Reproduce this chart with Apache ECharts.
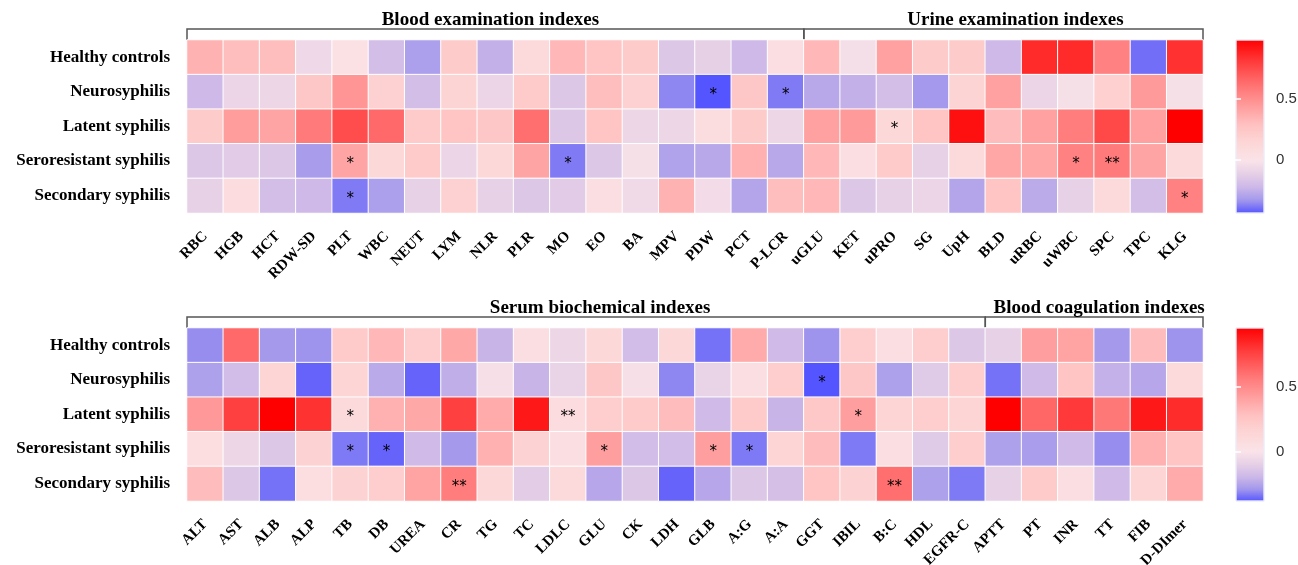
<!DOCTYPE html>
<html>
<head>
<meta charset="utf-8">
<script src="https://cdn.jsdelivr.net/npm/echarts@6/dist/echarts.min.js"></script>
<style>
html,body{margin:0;padding:0;background:#fff;}
#chart{width:1298px;height:565px;}
</style>
</head>
<body>
<div id="chart"></div>
<script>
// ---------------- DATA ----------------
const rows = ['Healthy controls', 'Neurosyphilis', 'Latent syphilis', 'Seroresistant syphilis', 'Secondary syphilis'];

const topCols = ['RBC','HGB','HCT','RDW-SD','PLT','WBC','NEUT','LYM','NLR','PLR','MO','EO','BA','MPV','PDW','PCT','P-LCR',
                 'uGLU','KET','uPRO','SG','UpH','BLD','uRBC','uWBC','SPC','TPC','KLG'];
const topHealthy   = [0.35,0.30,0.30,-0.06,0.03,-0.19,-0.30,0.22,-0.24,0.10,0.33,0.27,0.22,-0.15,-0.11,-0.21,0.05,0.33,-0.03,0.42,0.22,0.22,-0.21,0.85,0.85,0.55,-0.39,0.83];
const topNeuro     = [-0.21,-0.08,-0.07,0.25,0.47,0.18,-0.19,0.16,-0.08,0.23,-0.15,0.30,0.18,-0.35,-0.43,0.25,-0.37,-0.27,-0.24,-0.19,-0.32,0.16,0.42,-0.08,-0.02,0.19,0.45,-0.02];
const topLatent    = [0.22,0.44,0.41,0.58,0.74,0.64,0.23,0.26,0.25,0.62,-0.15,0.27,-0.07,-0.07,0.07,0.22,-0.07,0.42,0.45,0.12,0.27,0.93,0.31,0.42,0.57,0.75,0.42,0.98];
const topSero      = [-0.15,-0.13,-0.15,-0.31,0.41,0.12,0.23,-0.08,0.13,0.41,-0.37,-0.15,-0.02,-0.29,-0.27,0.36,-0.27,0.33,0.05,0.23,-0.10,0.10,0.40,0.40,0.55,0.58,0.41,0.10];
const topSecondary = [-0.10,0.08,-0.19,-0.21,-0.37,-0.30,-0.10,0.18,-0.10,-0.15,-0.13,0.05,-0.05,0.35,-0.04,-0.28,0.30,0.33,-0.15,-0.10,-0.08,-0.28,0.26,-0.26,-0.10,0.11,-0.19,0.55];
const topStars = [['PDW','Neurosyphilis','*'],['P-LCR','Neurosyphilis','*'],['uPRO','Latent syphilis','*'],
                  ['PLT','Seroresistant syphilis','*'],['MO','Seroresistant syphilis','*'],['uWBC','Seroresistant syphilis','*'],
                  ['SPC','Seroresistant syphilis','**'],['PLT','Secondary syphilis','*'],['KLG','Secondary syphilis','*']];
const topGroups = [['Blood examination indexes','RBC','P-LCR'],['Urine examination indexes','uGLU','KLG']];
const topRange = [-0.43, 0.98];

const botCols = ['ALT','AST','ALB','ALP','TB','DB','UREA','CR','TG','TC','LDLC','GLU','CK','LDH','GLB','A:G','A:A','GGT','IBIL','B:C','HDL','EGFR-C',
                 'APTT','PT','INR','TT','FIB','D-DImer'];
const botHealthy   = [-0.30,0.62,-0.28,-0.29,0.22,0.32,0.19,0.38,-0.20,0.05,-0.06,0.12,-0.17,0.12,-0.34,0.37,-0.18,-0.29,0.19,0.06,0.19,-0.13,-0.09,0.42,0.40,-0.28,0.30,-0.29];
const botNeuro     = [-0.26,-0.17,0.15,-0.36,0.15,-0.23,-0.36,-0.22,-0.02,-0.20,-0.08,0.24,-0.02,-0.31,-0.08,0.06,0.20,-0.38,0.24,-0.26,-0.12,0.20,-0.34,-0.18,0.26,-0.21,-0.24,0.10];
const botLatent    = [0.44,0.76,0.95,0.80,0.10,0.35,0.38,0.76,0.37,0.88,0.08,0.20,0.22,0.30,-0.18,0.22,-0.20,0.23,0.42,0.15,0.19,0.15,0.95,0.63,0.78,0.57,0.88,0.82];
const botSero      = [0.07,-0.06,-0.13,0.17,-0.33,-0.36,-0.18,-0.28,0.35,0.17,0.06,0.42,-0.17,-0.17,0.42,-0.33,0.15,0.30,-0.33,0.06,-0.12,0.20,-0.26,-0.27,-0.18,-0.30,0.35,0.26];
const botSecondary = [0.30,-0.13,-0.34,0.07,0.17,0.20,0.40,0.55,0.12,-0.11,0.10,-0.24,-0.13,-0.36,-0.24,-0.13,-0.16,0.26,0.17,0.60,-0.26,-0.33,-0.09,0.22,0.06,-0.18,0.15,0.37];
const botStars = [['GGT','Neurosyphilis','*'],['TB','Latent syphilis','*'],['LDLC','Latent syphilis','**'],['IBIL','Latent syphilis','*'],
                  ['TB','Seroresistant syphilis','*'],['DB','Seroresistant syphilis','*'],['GLU','Seroresistant syphilis','*'],
                  ['GLB','Seroresistant syphilis','*'],['A:G','Seroresistant syphilis','*'],
                  ['CR','Secondary syphilis','**'],['B:C','Secondary syphilis','**']];
const botGroups = [['Serum biochemical indexes','ALT','EGFR-C'],['Blood coagulation indexes','APTT','D-DImer']];
const botRange = [-0.38, 0.95];

const legendTicks = [0, 0.5];

// ---------------- COLOUR RAMP ----------------
const negStops = [[0,'#FAE3E8'],[0.25,'#E6D0E6'],[0.5,'#CDB8E8'],[0.75,'#A398EC'],[1,'#5555FF']];
const posStops = [[0,'#FAE3E8'],[0.15,'#FDD6D6'],[0.3,'#FFC0C0'],[0.45,'#FF9C9C'],[0.6,'#FF7878'],[0.8,'#FF4040'],[1,'#FF0000']];
function hex2rgb(h){return [parseInt(h.substr(1,2),16),parseInt(h.substr(3,2),16),parseInt(h.substr(5,2),16)];}
function rampAt(stops,t){
  t=Math.max(0,Math.min(1,t));
  for(let i=1;i<stops.length;i++){
    if(t<=stops[i][0]){
      const a=stops[i-1],b=stops[i];const f=(t-a[0])/(b[0]-a[0]);
      const ca=hex2rgb(a[1]),cb=hex2rgb(b[1]);
      const c=ca.map((x,k)=>Math.round(x+(cb[k]-x)*f));
      return 'rgb('+c.join(',')+')';
    }
  }
  return stops[stops.length-1][1];
}
function colorAt(v,range){ return v<0 ? rampAt(negStops, v/range[0]) : rampAt(posStops, v/range[1]); }
function paletteFor(range){
  const n=80, out=[];
  for(let i=0;i<n;i++){const v=range[0]+(range[1]-range[0])*i/(n-1);out.push(colorAt(v,range));}
  return out;
}
function gradientFor(range){
  const n=60, stops=[];
  for(let i=0;i<n;i++){const v=range[1]-(range[1]-range[0])*i/(n-1);stops.push({offset:i/(n-1),color:colorAt(v,range)});}
  return stops;
}

function buildData(series){
  const d=[];
  series.forEach((arr,r)=>arr.forEach((v,c)=>d.push([c,r,v])));
  return d;
}
function starMap(stars){const m={};stars.forEach(s=>m[s[0]+'|'+s[1]]=s[2]);return m;}

const topData = buildData([topHealthy,topNeuro,topLatent,topSero,topSecondary]);
const botData = buildData([botHealthy,botNeuro,botLatent,botSero,botSecondary]);
const topStarMap = starMap(topStars), botStarMap = starMap(botStars);

// ---------------- CHART ----------------
const SERIF='"Liberation Serif","Times New Roman",serif';
const chart = echarts.init(document.getElementById('chart'));

function xAxisFor(cols,grid){
  return {type:'category',gridIndex:grid,data:cols,position:'bottom',
    axisLine:{show:false},axisTick:{show:false},splitLine:{show:false},
    axisLabel:{rotate:45,interval:0,margin:21,fontFamily:SERIF,fontWeight:'bold',fontSize:15,color:'#000'}};
}
function yAxisFor(grid){
  return {type:'category',gridIndex:grid,data:rows,inverse:true,
    axisLine:{show:false},axisTick:{show:false},splitLine:{show:false},
    axisLabel:{margin:17,fontFamily:SERIF,fontWeight:'bold',fontSize:17,color:'#000'}};
}
function heatSeries(data,grid,smap,cols){
  return {type:'heatmap',xAxisIndex:grid,yAxisIndex:grid,data:data,
    itemStyle:{borderColor:'#fff',borderWidth:1},
    emphasis:{disabled:true},
    label:{show:true,color:'#000',fontSize:15,fontFamily:'DejaVu Sans',offset:[0,3],
      formatter:p=>smap[cols[p.value[0]]+'|'+rows[p.value[1]]]||''}};
}
function barSeries(range,xi,yi){
  return {type:'custom',xAxisIndex:xi,yAxisIndex:yi,data:[[0,0]],silent:true,
    renderItem:(params,api)=>{
      const p1=api.coord([0,range[1]]), p2=api.coord([1,range[0]]);
      return {type:'rect',shape:{x:p1[0],y:p1[1],width:p2[0]-p1[0],height:p2[1]-p1[1]},
        style:{fill:new echarts.graphic.LinearGradient(0,0,0,1,gradientFor(range)),stroke:'rgba(235,235,250,0.9)',lineWidth:1}};
    }};
}
function legendY(range,grid,pos,showLabel){
  return {type:'value',gridIndex:grid,position:pos,min:range[0],max:range[1],
    axisLine:{show:false},splitLine:{show:false},
    axisTick:{show:true,inside:true,length:5,customValues:legendTicks,lineStyle:{color:'#fff',width:1.5}},
    axisLabel:{show:showLabel,customValues:legendTicks,margin:12,fontSize:15,color:'#333',fontFamily:'Liberation Sans, Arial, sans-serif'},
    z:5};
}

chart.setOption({
  animation:false,
  backgroundColor:'#fff',
  grid:[
    {left:187,top:40,width:1016,height:173,containLabel:false,outerBoundsMode:'none'},
    {left:187,top:328,width:1016,height:173,containLabel:false,outerBoundsMode:'none'},
    {left:1236,top:40,width:28,height:173,containLabel:false,outerBoundsMode:'none'},
    {left:1236,top:328,width:28,height:173,containLabel:false,outerBoundsMode:'none'}
  ],
  xAxis:[xAxisFor(topCols,0),xAxisFor(botCols,1),
    {type:'value',gridIndex:2,min:0,max:1,show:false},
    {type:'value',gridIndex:3,min:0,max:1,show:false}],
  yAxis:[yAxisFor(0),yAxisFor(1),
    legendY(topRange,2,'right',true),legendY(botRange,3,'right',true),
    legendY(topRange,2,'left',false),legendY(botRange,3,'left',false)],
  visualMap:[
    {type:'continuous',show:false,seriesIndex:0,dimension:2,min:topRange[0],max:topRange[1],inRange:{color:paletteFor(topRange)}},
    {type:'continuous',show:false,seriesIndex:1,dimension:2,min:botRange[0],max:botRange[1],inRange:{color:paletteFor(botRange)}}
  ],
  series:[
    heatSeries(topData,0,topStarMap,topCols),
    heatSeries(botData,1,botStarMap,botCols),
    barSeries(topRange,2,2),
    barSeries(botRange,3,3)
  ]
});

// group brackets + headings, positioned through the axes
const headingShift = {'Blood examination indexes':-5,'Urine examination indexes':12,'Serum biochemical indexes':14,'Blood coagulation indexes':5};
function groupGraphics(groups,cols,axisIdx,gridTop){
  const els=[];
  const c0=chart.convertToPixel({xAxisIndex:axisIdx},0), c1=chart.convertToPixel({xAxisIndex:axisIdx},1);
  const bw=c1-c0;
  const lineY=gridTop-11;
  groups.forEach(g=>{
    const i0=cols.indexOf(g[1]), i1=cols.indexOf(g[2]);
    const xa=chart.convertToPixel({xAxisIndex:axisIdx},i0)-bw/2;
    const xb=chart.convertToPixel({xAxisIndex:axisIdx},i1)+bw/2;
    els.push({type:'polyline',shape:{points:[[xa,gridTop],[xa,lineY],[xb,lineY],[xb,gridTop]]},
      style:{stroke:'#555',lineWidth:1.5,fill:null},silent:true});
    els.push({type:'text',x:(xa+xb)/2+(headingShift[g[0]]||0),y:lineY-9,style:{text:g[0],fill:'#000',font:'bold 19px '+SERIF,align:'center',verticalAlign:'middle'},silent:true});
  });
  return els;
}
function gridTopOf(yi){
  const a=chart.convertToPixel({yAxisIndex:yi},0), b=chart.convertToPixel({yAxisIndex:yi},1);
  return a-(b-a)/2;
}
chart.setOption({graphic:[].concat(groupGraphics(topGroups,topCols,0,gridTopOf(0)),groupGraphics(botGroups,botCols,1,gridTopOf(1)))});
</script>
</body>
</html>
